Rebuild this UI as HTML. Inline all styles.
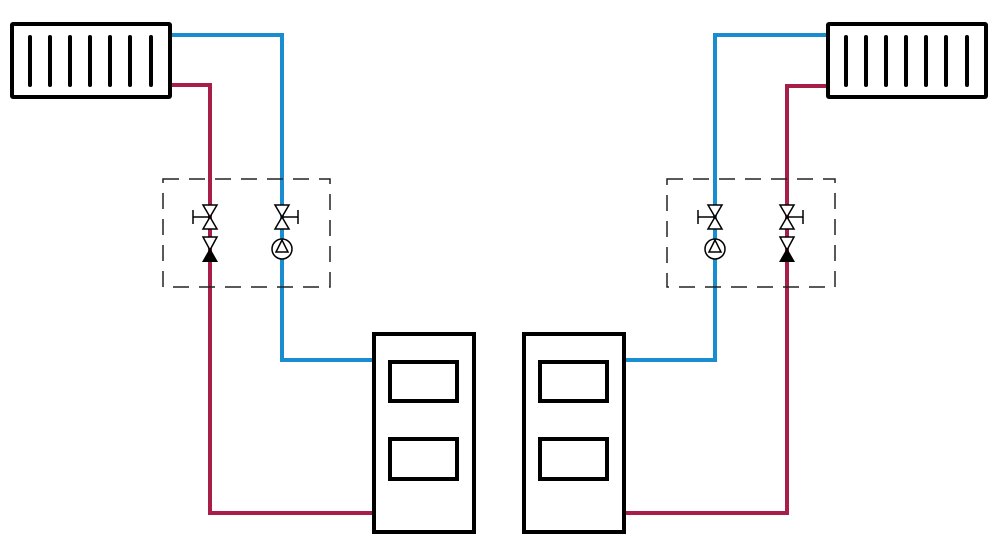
<!DOCTYPE html>
<html><head><meta charset="utf-8"><style>html,body{margin:0;padding:0;background:#fff}svg{display:block}</style></head>
<body>
<svg width="1000" height="545" viewBox="0 0 1000 545" xmlns="http://www.w3.org/2000/svg">
<defs>
<g id="rad">
<rect x="0" y="0" width="158" height="73" fill="#fff" stroke="#000" stroke-width="4" rx="1"/>
<g stroke="#000" stroke-width="4" stroke-linecap="round">
<line x1="18" y1="13" x2="18" y2="61"/><line x1="38" y1="13" x2="38" y2="61"/><line x1="58" y1="13" x2="58" y2="61"/><line x1="78" y1="13" x2="78" y2="61"/><line x1="98" y1="13" x2="98" y2="61"/><line x1="118" y1="13" x2="118" y2="61"/><line x1="139" y1="13" x2="139" y2="61"/>
</g></g>
<g id="boiler">
<rect x="0" y="0" width="100" height="198" fill="#fff" stroke="#000" stroke-width="4"/>
<rect x="16" y="28" width="67" height="39" fill="#fff" stroke="#000" stroke-width="4"/>
<rect x="16" y="105" width="67" height="40" fill="#fff" stroke="#000" stroke-width="4"/>
</g>
<g id="bow"><polygon points="-7,-12 7,-12 -7,12 7,12" fill="#fff" stroke="#000" stroke-width="1.5"/></g>
<g id="check">
<polygon points="-7,20 7,20 0,33" fill="#fff" stroke="#000" stroke-width="1.5"/>
<polygon points="0,31 -8,45 8,45" fill="#000"/>
</g>
<g id="pump">
<circle cx="0" cy="32" r="10" fill="#fff" stroke="#000" stroke-width="1.5"/>
<polygon points="0,23 -6,35 6,35" fill="#fff" stroke="#000" stroke-width="1.5"/>
</g>
</defs>

<!-- Left pipes -->
<polyline points="170,35 282,35 282,360 374,360" fill="none" stroke="#1a8cd0" stroke-width="4"/>
<polyline points="170,85 210,85 210,513 374,513" fill="none" stroke="#a71f48" stroke-width="4"/>
<!-- Right pipes -->
<polyline points="828,35 715,35 715,360 624,360" fill="none" stroke="#1a8cd0" stroke-width="4"/>
<polyline points="828,86 787,86 787,513 624,513" fill="none" stroke="#a71f48" stroke-width="4"/>

<!-- dashed boxes -->
<rect x="163" y="179" width="167" height="108" fill="none" stroke="#222" stroke-width="1.5" stroke-dasharray="16,10"/>
<rect x="667" y="179" width="168" height="108" fill="none" stroke="#222" stroke-width="1.5" stroke-dasharray="16,10"/>

<!-- left valves -->
<g transform="translate(210,217)">
<line x1="-17" y1="0" x2="0" y2="0" stroke="#000" stroke-width="1.5"/><line x1="-17" y1="-7" x2="-17" y2="7" stroke="#000" stroke-width="1.5"/>
<use href="#bow"/><use href="#check"/>
</g>
<g transform="translate(282,217)">
<line x1="0" y1="0" x2="16" y2="0" stroke="#000" stroke-width="1.5"/><line x1="16" y1="-7" x2="16" y2="7" stroke="#000" stroke-width="1.5"/>
<use href="#bow"/><use href="#pump"/>
</g>
<!-- right valves -->
<g transform="translate(715,217)">
<line x1="-17" y1="0" x2="0" y2="0" stroke="#000" stroke-width="1.5"/><line x1="-17" y1="-7" x2="-17" y2="7" stroke="#000" stroke-width="1.5"/>
<use href="#bow"/><use href="#pump"/>
</g>
<g transform="translate(787,217)">
<line x1="0" y1="0" x2="16" y2="0" stroke="#000" stroke-width="1.5"/><line x1="16" y1="-7" x2="16" y2="7" stroke="#000" stroke-width="1.5"/>
<use href="#bow"/><use href="#check"/>
</g>

<use href="#rad" x="12" y="24"/>
<use href="#rad" x="828" y="24"/>
<use href="#boiler" x="374" y="334"/>
<use href="#boiler" x="524" y="334"/>
</svg>
</body></html>
